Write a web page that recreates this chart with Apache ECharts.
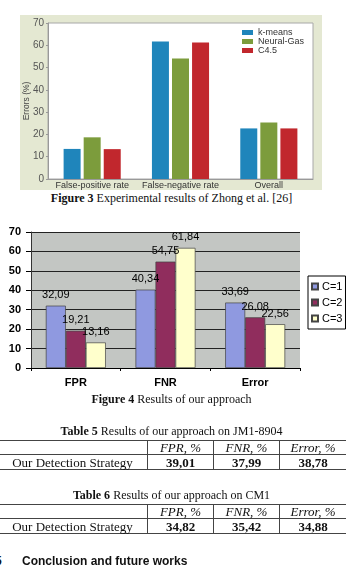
<!DOCTYPE html>
<html>
<head>
<meta charset="utf-8">
<script src="https://cdn.jsdelivr.net/npm/echarts@6/dist/echarts.min.js"></script>
<style>
body { margin: 0; width: 346px; height: 587px; background: #fff; position: relative; overflow: hidden; }
.abs { position: absolute; }
.cap { position: absolute; left: 0; width: 343px; text-align: center; font-family: "Liberation Serif", "Times New Roman", serif; font-size: 12px; line-height: 14px; color: #111; white-space: nowrap; }
table.res { position: absolute; left: -3px; width: 349px; border-collapse: collapse; table-layout: fixed; font-family: "Liberation Serif", "Times New Roman", serif; font-size: 13px; color: #111; }
table.res td { border: 1px solid #444; padding: 0; text-align: center; height: 13px; line-height: 13px; white-space: nowrap; }
table.res td.h { font-style: italic; }
table.res td.v { font-weight: bold; }
</style>
</head>
<body>
<div id="chart1" class="abs" style="left:20px;top:15px;width:302px;height:175px;background:#e4e8d2"></div>
<div class="cap" style="top:191px"><b>Figure 3</b> Experimental results of Zhong et al. [26]</div>
<div id="chart2" class="abs" style="left:0;top:220px;width:346px;height:175px"></div>
<div class="cap" style="top:392px"><b>Figure 4</b> Results of our approach</div>
<div class="cap" style="top:424px"><b>Table 5</b> Results of our approach on JM1-8904</div>
<table class="res" id="t5" style="top:440px"></table>
<div class="cap" style="top:488px"><b>Table 6</b> Results of our approach on CM1</div>
<table class="res" id="t6" style="top:504px"></table>
<div class="abs" style="left:-5px;top:553px;font-family:'Liberation Sans',Arial,sans-serif;font-weight:bold;font-size:12px;line-height:16px;color:#111;white-space:nowrap">5<span style="position:absolute;left:27px">Conclusion&nbsp;and&nbsp;future&nbsp;works</span></div>
<script type="text/javascript">
// figure 3 (Zhong et al.)
var cats1 = ['False-positive rate', 'False-negative rate', 'Overall'];
var kmeans = [13.5, 61.7, 22.7];
var neuralGas = [18.7, 54.1, 25.4];
var c45 = [13.4, 61.2, 22.7];

// figure 4 (our approach)
var cats2 = ['FPR', 'FNR', 'Error'];
var c1 = [32.09, 40.34, 33.69];
var c2 = [19.21, 54.75, 26.08];
var c3 = [13.16, 61.84, 22.56];

// tables
var tableCols = ['FPR, %', 'FNR, %', 'Error, %'];
var rowName = 'Our Detection Strategy';
var table5 = ['39,01', '37,99', '38,78'];
var table6 = ['34,82', '35,42', '34,88'];

function fillTable(id, vals) {
    var t = document.getElementById(id);
    var html = '<colgroup><col style="width:150px"><col style="width:66px"><col style="width:66px"><col style="width:67px"></colgroup>';
    html += '<tr><td></td>';
    for (var i = 0; i < tableCols.length; i++) html += '<td class="h">' + tableCols[i] + '</td>';
    html += '</tr><tr><td style="height:14px">' + rowName + '</td>';
    for (var i = 0; i < vals.length; i++) html += '<td class="v">' + vals[i] + '</td>';
    html += '</tr>';
    t.innerHTML = html;
}
fillTable('t5', table5);
fillTable('t6', table6);

var chart1 = echarts.init(document.getElementById('chart1'));
var sans = 'Liberation Sans, Arial, sans-serif';
chart1.setOption({
    animation: false,
    textStyle: { fontFamily: sans },
    grid: { left: 28, right: 9, top: 8, bottom: 11, outerBoundsMode: 'none', show: true, backgroundColor: '#fff', borderColor: '#a8a8a8', borderWidth: 1 },
    legend: {
        orient: 'vertical', left: 222, top: 13, padding: 0, itemGap: 0,
        itemWidth: 11, itemHeight: 5, icon: 'rect',
        textStyle: { fontSize: 9, lineHeight: 9, color: '#333', fontFamily: sans }
    },
    xAxis: {
        type: 'category', data: cats1,
        axisLine: { lineStyle: { color: '#999' } },
        axisTick: { show: false },
        axisLabel: { fontSize: 9, color: '#333', margin: 2, interval: 0 }
    },
    yAxis: {
        type: 'value', min: 0, max: 70, interval: 10,
        name: 'Errors (%)', nameLocation: 'middle', nameGap: 17, nameRotate: 90, nameMoveOverlap: false,
        nameTextStyle: { fontSize: 8.5, color: '#444' },
        axisLine: { show: true, lineStyle: { color: '#999' } },
        axisTick: { show: true, length: 2, lineStyle: { color: '#999' } },
        axisLabel: { fontSize: 10, color: '#555', margin: 4 },
        splitLine: { show: false }
    },
    series: [
        { name: 'k-means', type: 'bar', data: kmeans, barWidth: 17, barGap: '18%', barCategoryGap: '36%', itemStyle: { color: '#1f85bb' } },
        { name: 'Neural-Gas', type: 'bar', data: neuralGas, barWidth: 17, itemStyle: { color: '#7c9c3c' } },
        { name: 'C4.5', type: 'bar', data: c45, barWidth: 17, itemStyle: { color: '#c1272d' } }
    ]
});

var chart2 = echarts.init(document.getElementById('chart2'));
var lbl = {
    show: true, position: 'top', distance: 5, fontSize: 11, color: '#000', fontFamily: sans,
    formatter: function (p) { return p.value.toFixed(2).replace('.', ','); }
};
chart2.setOption({
    animation: false,
    textStyle: { fontFamily: sans },
    grid: { left: 31, right: 46, top: 12, bottom: 27, outerBoundsMode: 'none', show: true, backgroundColor: '#c3c6c3', borderWidth: 0 },
    legend: {
        orient: 'vertical', left: 308, top: 56, padding: [5, 3, 5, 3], itemGap: 5,
        itemWidth: 6, itemHeight: 6, icon: 'rect',
        backgroundColor: '#fff', borderColor: '#000', borderWidth: 1,
        textStyle: { fontSize: 11, color: '#000', fontFamily: sans, padding: [0, 0, 0, -1] }
    },
    xAxis: {
        type: 'category', data: cats2,
        axisLine: { lineStyle: { color: '#000' } },
        axisTick: { show: true, length: 3, lineStyle: { color: '#000' } },
        axisLabel: { fontSize: 11, fontWeight: 'bold', color: '#000', margin: 9 }
    },
    yAxis: {
        type: 'value', min: 0, max: 70, interval: 10,
        axisLine: { show: true, lineStyle: { color: '#333' } },
        axisTick: { show: true, length: 5, lineStyle: { color: '#000' } },
        axisLabel: { fontSize: 11, fontWeight: 'bold', color: '#000', margin: 10 },
        splitLine: { lineStyle: { color: '#222', width: 1 } }
    },
    series: [
        { name: 'C=1', type: 'bar', data: c1, barWidth: 20, barGap: '0%', label: lbl, itemStyle: { color: '#8f99e0', borderColor: '#444', borderWidth: 0.7 } },
        { name: 'C=2', type: 'bar', data: c2, barWidth: 20, label: lbl, itemStyle: { color: '#902d5d', borderColor: '#444', borderWidth: 0.7 } },
        { name: 'C=3', type: 'bar', data: c3, barWidth: 20, label: lbl, itemStyle: { color: '#ffffcc', borderColor: '#444', borderWidth: 0.7 } }
    ]
});
</script>
</body>
</html>
